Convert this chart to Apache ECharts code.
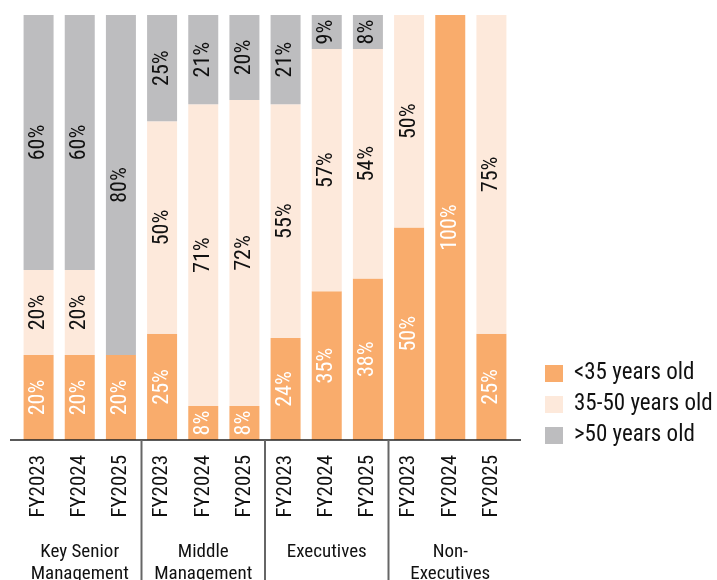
<!DOCTYPE html>
<html><head><meta charset="utf-8">
<script src="https://cdn.jsdelivr.net/npm/echarts@6/dist/echarts.min.js"></script>
<style>html,body{margin:0;padding:0;background:#fff}#c{width:717px;height:580px}</style>
</head><body><div id="c"></div>
<script>
var years = ['FY2023','FY2024','FY2025','FY2023','FY2024','FY2025','FY2023','FY2024','FY2025','FY2023','FY2024','FY2025'];
var groups = ['Key Senior\nManagement','Middle\nManagement','Executives','Non-\nExecutives'];
var seriesNames = ['<35 years old','35-50 years old','>50 years old'];
var under35 = [20,20,20,25,8,8,24,35,38,50,100,25];
var mid35to50 = [20,20,0,50,71,72,55,57,54,50,0,75];
var over50 = [60,60,80,25,21,20,21,9,8,0,0,0];
var colors = ['#F9AC6C','#FDE9DB','#BDBDBF'];
var FONT = 'Roboto';
var FW = 'condensed';
var TXT = '#111';

var chart = echarts.init(document.getElementById('c'));
function mk(name, data, color, labelColor){
  return {
    name: name, type: 'bar', stack: 'total', data: data, barWidth: 30,
    xAxisIndex: 0,
    itemStyle: {color: color},
    label: {show: true, position: 'inside', rotate: 90, color: labelColor,
      fontFamily: FONT, fontWeight: FW, fontSize: 22,
      formatter: function(p){ return p.value ? p.value + '%' : ''; }},
    emphasis: {disabled: true}
  };
}
chart.setOption({
  animation: false,
  textStyle: {fontFamily: FONT, fontWeight: FW},
  grid: {left: 18, right: 205, top: 15, bottom: 140, containLabel: false, outerBoundsMode: 'none'},
  legend: {
    orient: 'vertical', left: 540, top: 357, itemWidth: 18, itemHeight: 17, itemGap: 8,
    icon: 'rect',
    textStyle: {fontFamily: FONT, fontWeight: FW, fontSize: 23, color: TXT, padding: [0,0,0,6]},
    data: seriesNames
  },
  xAxis: [{
    type: 'category', data: years,
    axisLine: {show: false}, axisTick: {show: false},
    axisLabel: {rotate: 90, margin: 15, fontFamily: FONT, fontWeight: FW, fontSize: 21, color: TXT, interval: 0}
  },{
    type: 'category', data: groups, position: 'bottom',
    axisLine: {show: false}, axisTick: {show: false},
    axisLabel: {margin: 101, fontFamily: FONT, fontWeight: FW, fontSize: 19, lineHeight: 22, color: TXT, interval: 0}
  }],
  yAxis: {type: 'value', min: 0, max: 100, show: false},
  series: [
    mk(seriesNames[0], under35, colors[0], '#fff'),
    mk(seriesNames[1], mid35to50, colors[1], TXT),
    mk(seriesNames[2], over50, colors[2], TXT)
  ]
});

var px = function(i){ return chart.convertToPixel({xAxisIndex: 0}, i); };
var y0 = chart.convertToPixel({yAxisIndex: 0}, 0);
var half = (px(1) - px(0)) / 2;
var els = [{
  type: 'line', shape: {x1: px(0) - half - 8, y1: y0, x2: px(11) + half + 9, y2: y0},
  style: {stroke: '#222', lineWidth: 1.5}, z: 10
}];
[2,5,8].forEach(function(i){
  var x = (px(i) + px(i+1)) / 2;
  els.push({type: 'line', shape: {x1: x, y1: y0, x2: x, y2: 580},
    style: {stroke: '#666', lineWidth: 2}, z: 10});
});
chart.setOption({graphic: els});
</script></body></html>
